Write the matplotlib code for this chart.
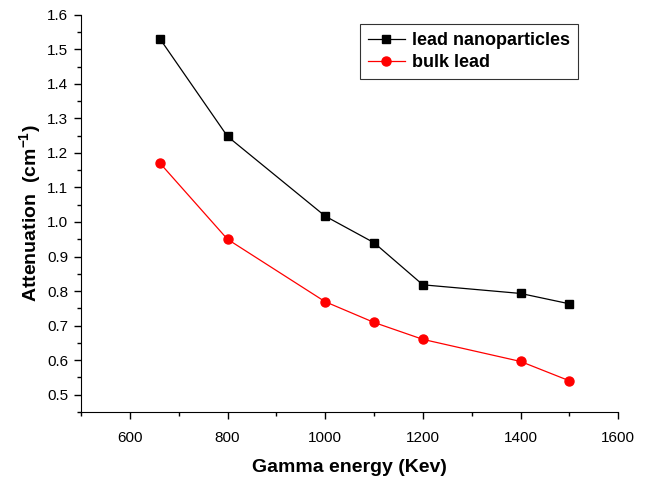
import matplotlib
matplotlib.use("Agg")
import matplotlib.pyplot as plt
from matplotlib.ticker import MultipleLocator

energy = [662, 800, 1000, 1100, 1200, 1400, 1500]
nano = [1.53, 1.248, 1.017, 0.94, 0.818, 0.793, 0.763]
bulk = [1.17, 0.95, 0.769, 0.709, 0.66, 0.596, 0.54]

plt.rcParams['font.family'] = ['Liberation Sans', 'DejaVu Sans']
plt.rcParams['mathtext.default'] = 'regular'

fig = plt.figure(figsize=(6.48, 4.8), dpi=100)
ax = fig.add_axes([0.125, 0.142, 0.829, 0.827])

ax.plot(energy, nano, color='black', lw=0.9, marker='s', ms=5.5, label='lead nanoparticles')
ax.plot(energy, bulk, color='red', lw=0.9, marker='o', ms=6.5, label='bulk lead')

ax.set_xlim(500, 1600)
ax.set_ylim(0.45, 1.6)
ax.xaxis.set_major_locator(MultipleLocator(200))
ax.xaxis.set_minor_locator(MultipleLocator(100))
ax.yaxis.set_major_locator(MultipleLocator(0.1))
ax.yaxis.set_minor_locator(MultipleLocator(0.05))
ax.set_xticks([600, 800, 1000, 1200, 1400, 1600])
ax.yaxis.set_major_formatter(plt.FormatStrFormatter('%.1f'))
ax.tick_params(which='major', direction='out', length=5, width=1, labelsize=11)
ax.tick_params(axis='x', which='major', pad=9)
ax.tick_params(axis='y', which='major', pad=4)
ax.tick_params(which='minor', direction='out', length=3, width=1)
ax.spines['top'].set_visible(False)
ax.spines['right'].set_visible(False)

ax.set_xlabel('Gamma energy (Kev)', fontsize=14, fontweight='bold', labelpad=10)
ax.set_ylabel('Attenuation  (cm$^{-1}$)', fontsize=14, fontweight='bold', labelpad=3)

leg = ax.legend(loc='upper right', bbox_to_anchor=(0.935, 0.99),
                prop={'weight': 'bold', 'size': 13}, frameon=True, fancybox=False,
                edgecolor='black', handlelength=2.0, handletextpad=0.4,
                borderpad=0.45, labelspacing=0.25, borderaxespad=0.3)
leg.get_frame().set_linewidth(0.8)

fig.savefig('out.png', dpi=100)
